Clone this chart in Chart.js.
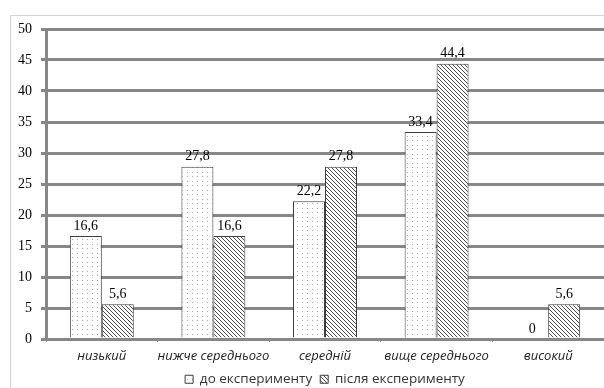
<!DOCTYPE html>
<html>
<head>
<meta charset="utf-8">
<script src="https://cdn.jsdelivr.net/npm/chart.js@4/dist/chart.umd.min.js"></script>
<style>
  html, body { margin: 0; padding: 0; background: #fff; }
  #c { display: block; }
</style>
</head>
<body>
<canvas id="c" width="604" height="388"></canvas>
<script>
// Levels and the share of respondents (%) at each level
const categories = ['низький', 'нижче середнього', 'середній', 'вище середнього', 'високий'];
const seriesNames = ['до експерименту', 'після експерименту'];
const beforeValues = [16.6, 27.8, 22.2, 33.4, 0];
const afterValues = [5.6, 16.6, 27.8, 44.4, 5.6];
const yMin = 0;
const yMax = 50;
const yStep = 5;

// Fill patterns: dotted for the first series, diagonal hatch for the second
function makeTile(w, h, paint) {
  const t = document.createElement('canvas');
  t.width = w; t.height = h;
  const g = t.getContext('2d');
  g.fillStyle = '#ffffff';
  g.fillRect(0, 0, w, h);
  paint(g);
  return t;
}
const ctxMain = document.getElementById('c').getContext('2d');
const dotTile = makeTile(5, 9, g => {
  g.fillStyle = '#a6a6a6';
  g.fillRect(2, 1, 1, 1);
  g.fillRect(2, 5, 1, 1);
});
const hatchTile = makeTile(4, 4, g => {
  g.fillStyle = '#4a4a4a';
  for (let i = 0; i < 4; i++) g.fillRect(i, i, 1, 1);
});
const dotFill = ctxMain.createPattern(dotTile, 'repeat');
const hatchFill = ctxMain.createPattern(hatchTile, 'repeat');

// White page with a light frame around the chart
const framePlugin = {
  id: 'frame',
  beforeDraw(chart) {
    const c = chart.ctx;
    c.save();
    c.fillStyle = '#ffffff';
    c.fillRect(0, 0, chart.width, chart.height);
    c.strokeStyle = '#d4d4d4';
    c.lineWidth = 1;
    c.strokeRect(10.5, 15.5, chart.width + 20, chart.height + 20);
    c.restore();
  }
};

// Value labels above each bar, with a decimal comma
const valueLabels = {
  id: 'valueLabels',
  afterDatasetsDraw(chart) {
    const c = chart.ctx;
    c.save();
    c.font = '14px "Liberation Serif", "Times New Roman", serif';
    c.fillStyle = '#000000';
    c.textAlign = 'center';
    c.textBaseline = 'bottom';
    chart.data.datasets.forEach((ds, i) => {
      chart.getDatasetMeta(i).data.forEach((bar, j) => {
        const v = ds.data[j];
        c.fillText(String(v).replace('.', ','), bar.x, bar.y - 3);
      });
    });
    c.restore();
  }
};

const gridGray = '#878787';
const sansFamily = '"Open Sans", "DejaVu Sans", sans-serif';
const serifFamily = '"Liberation Serif", "Times New Roman", serif';

new Chart(ctxMain, {
  type: 'bar',
  data: {
    labels: categories,
    datasets: [
      {
        label: seriesNames[0],
        data: beforeValues,
        backgroundColor: dotFill,
        borderColor: '#3c3c3c',
        borderWidth: 1,
        barPercentage: 1,
        categoryPercentage: 0.573
      },
      {
        label: seriesNames[1],
        data: afterValues,
        backgroundColor: hatchFill,
        borderColor: '#3c3c3c',
        borderWidth: 1,
        barPercentage: 1,
        categoryPercentage: 0.573
      }
    ]
  },
  options: {
    responsive: false,
    animation: false,
    devicePixelRatio: 1,
    layout: { padding: { top: 29, left: 0, right: 0, bottom: -8 } },
    plugins: {
      tooltip: { enabled: false },
      legend: {
        position: 'bottom',
        fullSize: false,
        labels: {
          boxWidth: 8,
          boxHeight: 8,
          padding: 8,
          color: '#333333',
          font: { family: sansFamily, size: 13.5 }
        }
      }
    },
    scales: {
      x: {
        afterFit(scale) { scale.height = 25.5; },
        grid: {
          display: true,
          drawOnChartArea: false,
          drawTicks: true,
          tickLength: 3,
          color: gridGray,
          lineWidth: 1
        },
        border: { display: true, color: gridGray, width: 3 },
        ticks: {
          padding: 6,
          color: '#222222',
          maxRotation: 0,
          autoSkip: false,
          font: { family: sansFamily, size: 13, style: 'italic' }
        }
      },
      y: {
        min: yMin,
        max: yMax,
        afterFit(scale) { scale.width = 46; },
        grid: {
          color: gridGray,
          lineWidth: 3,
          tickLength: 5,
          drawTicks: true
        },
        border: { display: true, color: gridGray, width: 3 },
        ticks: {
          stepSize: yStep,
          padding: 9,
          color: '#000000',
          font: { family: serifFamily, size: 14 }
        }
      }
    }
  },
  plugins: [framePlugin, valueLabels]
});
</script>
</body>
</html>
